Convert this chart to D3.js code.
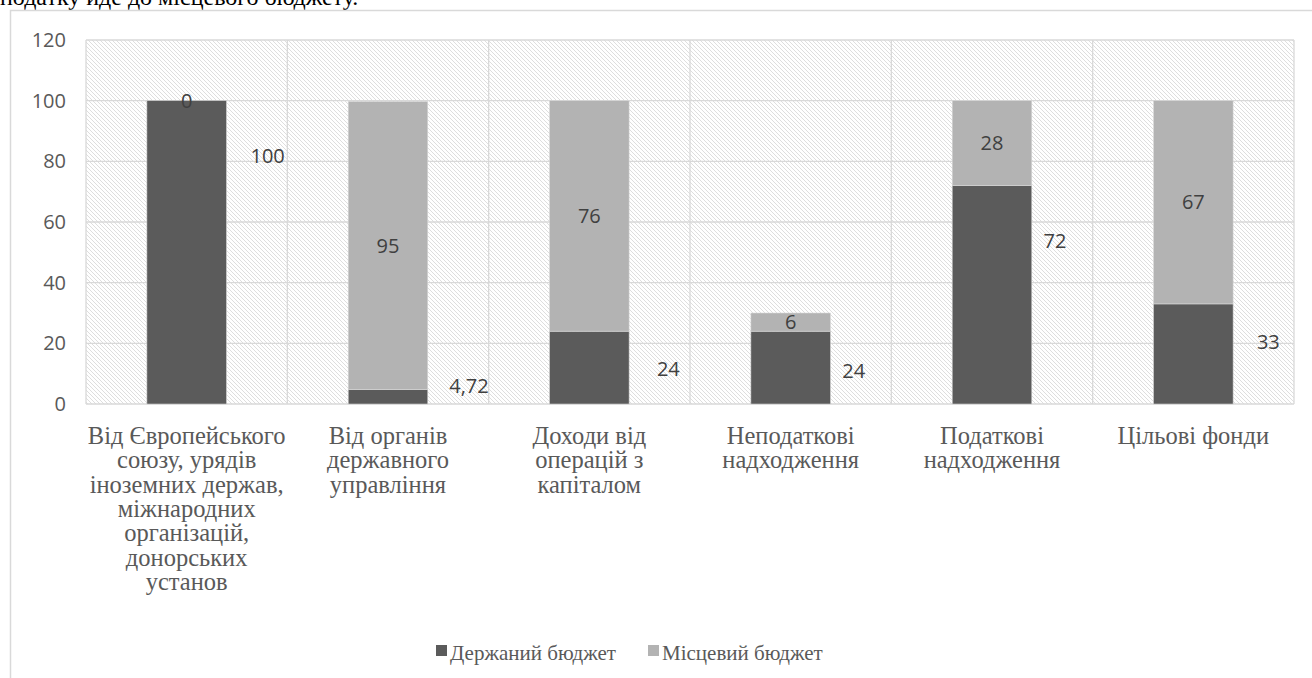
<!DOCTYPE html>
<html>
<head>
<meta charset="utf-8">
<script src="https://cdn.jsdelivr.net/npm/d3@7/dist/d3.min.js"></script>
<style>
  body { margin: 0; background: #fff; }
  svg { display: block; }
  .serif { font-family: "Liberation Serif", "Times New Roman", serif; }
  .sans { font-family: "Open Sans", "Liberation Sans", sans-serif; }
</style>
</head>
<body>
<div id="chart"></div>
<script>
// data
var categories = [
  ["Від Європейського", "союзу, урядів", "іноземних держав,", "міжнародних", "організацій,", "донорських", "установ"],
  ["Від органів", "державного", "управління"],
  ["Доходи від", "операцій з", "капіталом"],
  ["Неподаткові", "надходження"],
  ["Податкові", "надходження"],
  ["Цільові фонди"]
];
var stateBudget = [100, 4.72, 24, 24, 72, 33];
var localBudget = [0, 95, 76, 6, 28, 67];
var stateLabels = ["100", "4,72", "24", "24", "72", "33"];
var localLabels = ["0", "95", "76", "6", "28", "67"];
var seriesNames = ["Держаний бюджет", "Місцевий бюджет"];
var yTicks = [0, 20, 40, 60, 80, 100, 120];

var svgWidth = 1312;
var svgHeight = 678;

var plot = { left: 86, top: 40, right: 1294, bottom: 404 };

var svg = d3.select("#chart")
  .append("svg")
  .attr("width", svgWidth)
  .attr("height", svgHeight);

// hatch pattern for the plot background
var defs = svg.append("defs");
defs.append("pattern")
  .attr("id", "hatch")
  .attr("patternUnits", "userSpaceOnUse")
  .attr("width", 4)
  .attr("height", 4)
  .append("path")
  .attr("d", "M0,0 L4,4 M-1,3 L1,5 M3,-1 L5,1")
  .attr("stroke", "#dadada")
  .attr("stroke-width", 0.9);

// cut text line from the document above the chart
svg.append("text")
  .attr("class", "serif")
  .attr("x", 0)
  .attr("y", 5)
  .attr("font-size", 24)
  .attr("fill", "#000")
  .text("податку йде до місцевого бюджету.");

// chart frame
svg.append("rect")
  .attr("x", 10.5)
  .attr("y", 10.5)
  .attr("width", 1400)
  .attr("height", 800)
  .attr("fill", "none")
  .attr("stroke", "#d9d9d9")
  .attr("stroke-width", 1.5);

var xScale = d3.scaleBand()
  .domain(d3.range(categories.length))
  .range([plot.left, plot.right])
  .padding(0);

var yScale = d3.scaleLinear()
  .domain([0, 120])
  .range([plot.bottom, plot.top]);

// background
svg.append("rect")
  .attr("x", plot.left)
  .attr("y", plot.top)
  .attr("width", plot.right - plot.left)
  .attr("height", plot.bottom - plot.top)
  .attr("fill", "url(#hatch)");

// horizontal grid
svg.append("g")
  .selectAll("line")
  .data(yTicks)
  .enter()
  .append("line")
  .attr("x1", plot.left)
  .attr("x2", plot.right)
  .attr("y1", d => yScale(d))
  .attr("y2", d => yScale(d))
  .attr("stroke", "#d9d9d9")
  .attr("stroke-width", 1.3);

// vertical grid at category borders
var borders = d3.range(categories.length + 1);
svg.append("g")
  .selectAll("line")
  .data(borders)
  .enter()
  .append("line")
  .attr("x1", d => plot.left + d * xScale.bandwidth())
  .attr("x2", d => plot.left + d * xScale.bandwidth())
  .attr("y1", plot.top)
  .attr("y2", plot.bottom)
  .attr("stroke", "#d9d9d9")
  .attr("stroke-width", 1.3);

// y axis
var leftAxis = d3.axisLeft(yScale).tickValues(yTicks).tickSize(0).tickPadding(20);
var yAxis = svg.append("g")
  .attr("transform", `translate(${plot.left}, 0)`)
  .call(leftAxis);
yAxis.select(".domain").remove();
yAxis.attr("font-family", null).attr("font-size", null);
yAxis.selectAll("text")
  .attr("class", "sans")
  .attr("font-size", 20)
  .attr("fill", "#595959");

var barW = xScale.bandwidth() * 0.395;
var colors = ["#5b5b5b", "#b3b3b3"];

var stacks = categories.map((c, i) => ({
  i: i,
  s0: 0, s1: stateBudget[i],
  l0: stateBudget[i], l1: stateBudget[i] + localBudget[i]
}));

// state budget bars
svg.append("g")
  .selectAll("rect")
  .data(stacks)
  .enter()
  .append("rect")
  .attr("x", d => xScale(d.i) + xScale.bandwidth() / 2 - barW / 2)
  .attr("y", d => yScale(d.s1))
  .attr("width", barW)
  .attr("height", d => yScale(d.s0) - yScale(d.s1))
  .attr("fill", colors[0])
  .attr("stroke", "#cfcfcf")
  .attr("stroke-width", 0.6);

// local budget bars
svg.append("g")
  .selectAll("rect")
  .data(stacks)
  .enter()
  .append("rect")
  .attr("x", d => xScale(d.i) + xScale.bandwidth() / 2 - barW / 2)
  .attr("y", d => yScale(d.l1))
  .attr("width", barW)
  .attr("height", d => yScale(d.l0) - yScale(d.l1))
  .attr("fill", colors[1])
  .attr("stroke", "#d9d9d9")
  .attr("stroke-width", 0.6);

// local labels, centred in the segment
svg.append("g")
  .selectAll("text")
  .data(stacks)
  .enter()
  .append("text")
  .attr("class", "sans")
  .attr("x", d => xScale(d.i) + xScale.bandwidth() / 2)
  .attr("y", d => yScale((d.l0 + d.l1) / 2))
  .attr("dy", "0.35em")
  .attr("text-anchor", "middle")
  .attr("font-size", 20)
  .attr("fill", "#404040")
  .text(d => localLabels[d.i]);

// state labels were moved by hand beside the bars
var stateLabelAt = [81.6, 5.8, 11.5, 10.9, 53.7, 20.6];
var stateLabelDx = [81, 81, 79, 63, 63, 75];
svg.append("g")
  .selectAll("text")
  .data(stacks)
  .enter()
  .append("text")
  .attr("class", "sans")
  .attr("x", d => xScale(d.i) + xScale.bandwidth() / 2 + stateLabelDx[d.i])
  .attr("y", d => yScale(stateLabelAt[d.i]))
  .attr("dy", "0.35em")
  .attr("text-anchor", "middle")
  .attr("font-size", 20)
  .attr("fill", "#404040")
  .text(d => stateLabels[d.i]);

// category labels
var catGroup = svg.append("g");
categories.forEach(function(lines, i) {
  var t = catGroup.append("text")
    .attr("class", "serif")
    .attr("x", xScale(i) + xScale.bandwidth() / 2)
    .attr("y", 444)
    .attr("text-anchor", "middle")
    .attr("font-size", 24.5)
    .attr("fill", "#595959");
  lines.forEach(function(line, j) {
    t.append("tspan")
      .attr("x", xScale(i) + xScale.bandwidth() / 2)
      .attr("dy", j === 0 ? 0 : 24.3)
      .text(line);
  });
});

// legend
var legendX = [436, 648];
var legend = svg.append("g");
seriesNames.forEach(function(name, i) {
  legend.append("rect")
    .attr("x", legendX[i])
    .attr("y", 645)
    .attr("width", 11)
    .attr("height", 11)
    .attr("fill", colors[i]);
  legend.append("text")
    .attr("class", "serif")
    .attr("x", legendX[i] + 14)
    .attr("y", 660)
    .attr("font-size", 21)
    .attr("fill", "#595959")
    .text(name);
});
</script>
</body>
</html>
